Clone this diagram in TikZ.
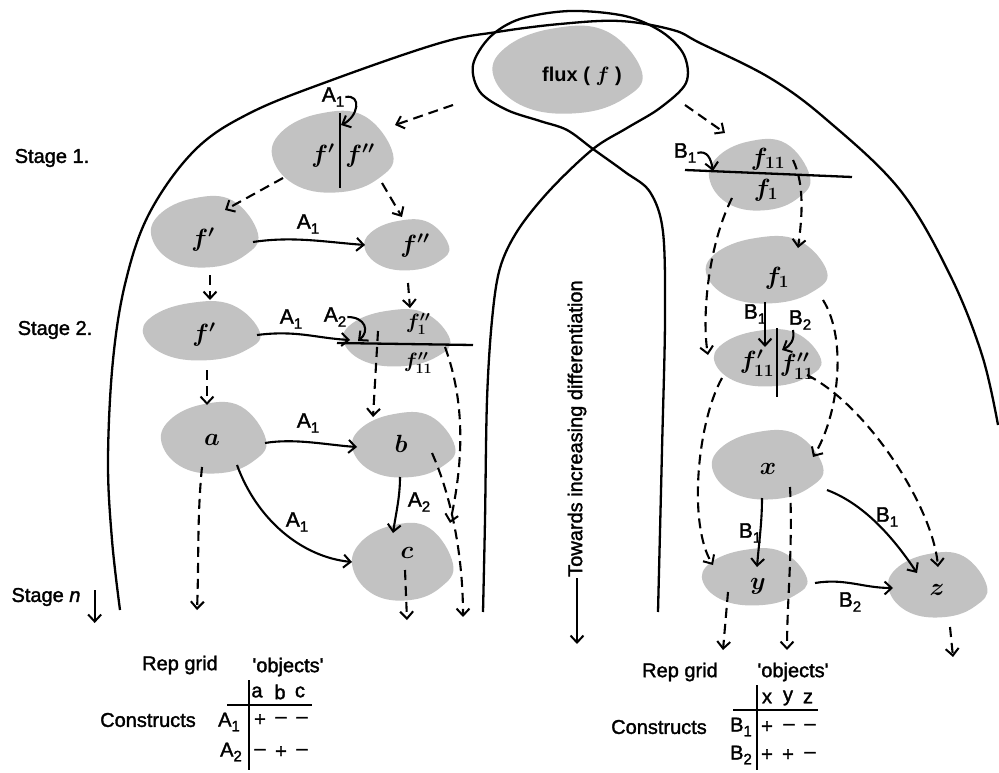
\documentclass[tikz,border=0pt]{standalone}
\usepackage{fontspec}
\setmainfont{Liberation Sans}[UprightFeatures={FakeBold=1.6},ItalicFeatures={FakeBold=1.6}]
\usetikzlibrary{arrows.meta,shapes.geometric}
\newcommand{\lsub}[1]{\raisebox{-0.45ex}{\fontsize{15}{15}\selectfont #1}}
\newcommand{\myblob}[4]{%
  \fill[blobfill] plot[smooth cycle, tension=0.7] coordinates {
   ({#1+#3*1.00},{#2+#4*0.05})
   ({#1+#3*0.76},{#2+#4*0.66})
   ({#1+#3*0.15},{#2+#4*1.00})
   ({#1-#3*0.58},{#2+#4*0.86})
   ({#1-#3*1.00},{#2+#4*0.18})
   ({#1-#3*0.86},{#2-#4*0.50})
   ({#1-#3*0.22},{#2-#4*0.96})
   ({#1+#3*0.52},{#2-#4*0.90})
  };}
\newcommand{\blobnode}[5]{\myblob{#2}{#3}{#4}{#5}%
  \node[bnode,minimum width={2*#4},minimum height={2*#5}] (#1) at (#2,#3) {};}
\begin{document}
\begin{tikzpicture}[x=1pt,y=-1pt,
  blobfill/.style={fill=black!24},
  bnode/.style={ellipse,draw=none,inner sep=0pt,outer sep=0pt},
  bnd/.style={line width=2.3pt},
  ln/.style={line width=2.1pt},
  tip/.style={-{Straight Barb[length=7pt,width=13pt,line width=2pt]}},
  arr/.style={ln,tip},
  darr/.style={ln,tip,dash pattern=on 10pt off 6pt},
  spl/.style={line width=2.3pt},
  tl/.style={line width=2pt},
  lbl/.style={font=\fontsize{21}{23}\selectfont,inner sep=1pt},
  txt/.style={font=\fontsize{20}{22}\selectfont,inner sep=1pt},
  mt/.style={font=\fontsize{23}{25}\selectfont\boldmath,inner sep=1pt}]
\useasboundingbox (0,0) rectangle (999,773);

% ---- blobs
\blobnode{flux}{568}{70}{74}{43}
\blobnode{S1}{333}{152}{60}{40}
\blobnode{F1}{205}{232}{53}{35}
\blobnode{F2}{407}{245}{42}{25}
\blobnode{G1}{202}{331}{58}{29}
\blobnode{G2}{397}{338}{53}{28}
\blobnode{na}{214}{438}{52}{35}
\blobnode{nb}{404}{445}{51}{32}
\blobnode{nc}{403}{562}{50}{38}
\blobnode{R1}{760}{175}{50}{35}
\blobnode{R2}{767}{270}{60}{33}
\blobnode{R3}{768}{358}{53}{28}
\blobnode{nx}{768}{465}{55}{34}
\blobnode{ny}{755}{577}{52}{28}
\blobnode{nz}{938}{585}{49}{32}

% ---- boundaries
\draw[bnd] plot[smooth, tension=0.6] coordinates {(120,610) (112,540) (108,460) (113,360) (126,280) (150,212) (195,150) (250,113) (332,80) (440,43) (497,32) (560,24) (620,21) (673,30) (700,43) (770,78) (827,120) (900,190) (950,275) (982,355) (998,425)};
\draw[bnd] plot[smooth, tension=0.55] coordinates {(483,612) (485,520) (487,400) (492,320) (500,268) (518,230) (550,190) (593,149) (627,128) (660,108) (686,83) (684,55) (662,32) (625,16) (570,11) (520,19) (490,37) (473,65) (480,92) (507,110) (540,121) (567,130) (593,149) (625,172) (650,192) (663,232) (665,320) (662,450) (658,612)};

% ---- free ends
\coordinate (aEnd) at (197,610);
\coordinate (bEnd) at (463,617);
\coordinate (cEnd) at (407,620);
\coordinate (xEnd) at (787,650);
\coordinate (yEnd) at (723,650);
\coordinate (zEnd) at (953,657);

% ---- labels on connectors
\node[lbl] (LA1s) at (333,97) {A\lsub{1}};
\node[lbl] (LA1a) at (308,224) {A\lsub{1}};
\node[lbl] (LA1b) at (291,319) {A\lsub{1}};
\node[lbl] (LA2a) at (335,317) {A\lsub{2}};
\node[lbl] (LA1c) at (308,423) {A\lsub{1}};
\node[lbl] (LA1d) at (297,522) {A\lsub{1}};
\node[lbl] (LA2b) at (419,502) {A\lsub{2}};
\node[lbl] (LB1s) at (685,153) {B\lsub{1}};
\node[lbl] (LB1a) at (755,314) {B\lsub{1}};
\node[lbl] (LB2a) at (800,320) {B\lsub{2}};
\node[lbl] (LB1b) at (750,533) {B\lsub{1}};
\node[lbl] (LB1c) at (887,517) {B\lsub{1}};
\node[lbl] (LB2b) at (850,602) {B\lsub{2}};

% ---- split lines
\draw[spl] ([shift={(7,-39)}]S1.center) -- ([shift={(7,36)}]S1.center);
\draw[spl] ([shift={(-60,5)}]G2.center) -- ([shift={(76,7)}]G2.center);
\draw[spl] ([shift={(-75,-5)}]R1.center) -- ([shift={(92,2)}]R1.center);
\draw[spl] ([shift={(9,-30)}]R3.center) -- ([shift={(9,39)}]R3.center);

% ---- dashed connectors
\draw[darr] ([shift={(-115,35)}]flux.center) -- ([shift={(62,-27)}]S1.center);
\draw[darr] ([shift={(117,35)}]flux.center) -- ([shift={(-35,-42)}]R1.center);
\draw[darr] ([shift={(-50,26)}]S1.center) -- ([shift={(20,-22)}]F1.center);
\draw[darr] ([shift={(49,31)}]S1.center) -- ([shift={(-5,-28)}]F2.center);
\draw[darr] ([shift={(5,43)}]F1.center) -- ([shift={(8,-31)}]G1.center);
\draw[darr] ([shift={(1,38)}]F2.center) -- ([shift={(13,-30)}]G2.center);
\draw[darr] ([shift={(5,39)}]G1.center) -- ([shift={(-7,-33)}]na.center);
\draw[darr] ([shift={(-19,-7)}]G2.center) -- ([shift={(-31,-28)}]nb.center);
\draw[darr] ([shift={(48,9)}]G2.center) .. controls +(22,60) and +(12,-55) .. ([shift={(47,-39)}]nc.center);
\draw[darr] ([shift={(28,8)}]nb.center) .. controls +(20,45) and +(0,-60) .. (bEnd);
\draw[darr] ([shift={(-12,29)}]na.center) .. controls +(-5,50) and +(2,-50) .. (aEnd);
\draw[darr] ([shift={(2,8)}]nc.center) -- (cEnd);
\draw[darr] ([shift={(33,-15)}]R1.center) .. controls +(12,25) and +(4,-30) .. ([shift={(31,-22)}]R2.center);
\draw[darr] ([shift={(-28,23)}]R1.center) .. controls +(-25,50) and +(-6,-35) .. ([shift={(-60,-3)}]R3.center);
\draw[darr] ([shift={(56,30)}]R2.center) .. controls +(25,40) and +(25,-40) .. ([shift={(45,-8)}]nx.center);
\draw[darr] ([shift={(-46,20)}]R3.center) .. controls +(-25,45) and +(-25,-40) .. ([shift={(-42,-12)}]ny.center);
\draw[darr] ([shift={(39,17)}]R3.center) .. controls +(60,30) and +(-5,-60) .. ([shift={(0,-18)}]nz.center);
\draw[darr] ([shift={(22,22)}]nx.center) .. controls +(3,60) and +(0,-50) .. (xEnd);
\draw[darr] ([shift={(-27,15)}]ny.center) -- (yEnd);
\draw[darr] ([shift={(12,42)}]nz.center) -- (zEnd);

% ---- solid connectors
\draw[arr] (LA1s.east) .. controls +(17,-3) and +(17,-8) .. ([shift={(8,-27)}]S1.center);
\draw[arr] ([shift={(48,10)}]F1.center) .. controls +(40,-6) and +(-40,-3) .. ([shift={(-42,0)}]F2.center);
\draw[arr] ([shift={(55,4)}]G1.center) .. controls +(40,-5) and +(-35,-2) .. ([shift={(-47,2)}]G2.center);
\draw[arr] (LA2a.east) .. controls +(18,0) and +(12,-10) .. ([shift={(-39,3)}]G2.center);
\draw[arr] ([shift={(51,5)}]na.center) .. controls +(30,-5) and +(-30,-2) .. ([shift={(-47,2)}]nb.center);
\draw[arr] ([shift={(23,27)}]na.center) .. controls +(20,55) and +(-50,-5) .. ([shift={(-51,0)}]nc.center);
\draw[arr] ([shift={(-4,32)}]nb.center) .. controls +(0,20) and +(3,-20) .. ([shift={(-10,-29)}]nc.center);
\draw[arr] (LB1s.east) .. controls +(10,-3) and +(-2,-12) .. ([shift={(-47,-4)}]R1.center);
\draw[arr] ([shift={(-2,32)}]R2.center) -- ([shift={(-3,-11)}]R3.center);
\draw[arr] ([shift={(-7,10)}]LB2a.center) .. controls +(2,10) and +(8,-4) .. ([shift={(14,-8)}]R3.center);
\draw[arr] ([shift={(-6,33)}]nx.center) .. controls +(0,25) and +(2,-25) .. ([shift={(2,-10)}]ny.center);
\draw[arr] ([shift={(59,25)}]nx.center) .. controls +(40,15) and +(-20,-30) .. ([shift={(-21,-12)}]nz.center);
\draw[arr] ([shift={(60,6)}]ny.center) .. controls +(30,-5) and +(-30,0) .. ([shift={(-45,3)}]nz.center);

% ---- blob texts
\node[txt] (fluxt) at (582,76) {\textbf{flux (} {\boldmath$f$} \textbf{)}};
\node[mt] (S1a) at (323,156) {$f'$};
\node[mt] (S1b) at (360,156) {$f''$};
\node[mt] (F1t) at (203,240) {$f'$};
\node[mt] (F2t) at (415,246) {$f''$};
\node[mt] (G1t) at (204,335) {$f'$};
\node[mt,inner sep=0pt,font=\fontsize{21}{23}\selectfont\boldmath] (G2a) at (418,324) {$f''_{1}$};
\node[mt,inner sep=0pt,font=\fontsize{21}{23}\selectfont\boldmath] (G2b) at (418,363) {$f''_{11}$};
\node[mt] (nat) at (212,440) {$a$};
\node[mt] (nbt) at (401,444) {$b$};
\node[mt] (nct) at (407,553) {$c$};
\node[mt] (R1a) at (768,159) {$f_{11}$};
\node[mt] (R1b) at (766,190) {$f_{1}$};
\node[mt] (R2t) at (777,278) {$f_{1}$};
\node[mt] (R3a) at (757,363) {$f'_{11}$};
\node[mt] (R3b) at (797,366) {$f''_{11}$};
\node[mt] (nxt) at (768,469) {$x$};
\node[mt] (nyt) at (758,586) {$y$};
\node[mt] (nzt) at (937,590) {$z$};

% ---- stage labels
\node[txt] (st1) at (52,158) {Stage 1.};
\node[txt] (st2) at (55,330) {Stage 2.};
\node[txt] (stn) at (46,597) {Stage \textit{n}};
\draw[arr] ([shift={(13,-7)}]stn.east) -- ++(0,33);
\node[txt, rotate=90, anchor=west] (tow) at (577,578) {Towards increasing differentiation};
\draw[arr] (tow.west) -- ++(0,66);

% ---- left table
\node[txt] (rg1) at (180,665) {Rep grid};
\node[txt] (ob1) at (288,667) {\textquotesingle objects\textquotesingle};
\node[txt] (h1a) at (257,692) {a};
\node[txt] (h1b) at (280,692) {b};
\node[txt] (h1c) at (300,692) {c};
\node[txt] (con1) at (148,720) {Constructs};
\node[txt] (rA1) at (229,722) {A\lsub{1}};
\node[txt] (rA2) at (231,752) {A\lsub{2}};
\node[txt] (p11) at (260,720) {+};
\node[txt] (p12) at (281,720) {–};
\node[txt] (p13) at (302,720) {–};
\node[txt] (p21) at (260,752) {–};
\node[txt] (p22) at (281,752) {+};
\node[txt] (p23) at (302,752) {–};
\draw[tl] (249,680) -- (249,770);
\draw[tl] (227,705) -- (312,705);

% ---- right table
\node[txt] (rg2) at (680,672) {Rep grid};
\node[txt] (ob2) at (793,672) {\textquotesingle objects\textquotesingle};
\node[txt] (hx) at (767,698) {x};
\node[txt] (hy) at (788,698) {y};
\node[txt] (hz) at (808,698) {z};
\node[txt] (con2) at (659,727) {Constructs};
\node[txt] (rB1) at (741,727) {B\lsub{1}};
\node[txt] (rB2) at (741,755) {B\lsub{2}};
\node[txt] (q11) at (767,727) {+};
\node[txt] (q12) at (789,727) {–};
\node[txt] (q13) at (810,727) {–};
\node[txt] (q21) at (767,755) {+};
\node[txt] (q22) at (788,755) {+};
\node[txt] (q23) at (810,755) {–};
\draw[tl] (757,685) -- (757,770);
\draw[tl] (733,710) -- (818,710);
\end{tikzpicture}
\end{document}
